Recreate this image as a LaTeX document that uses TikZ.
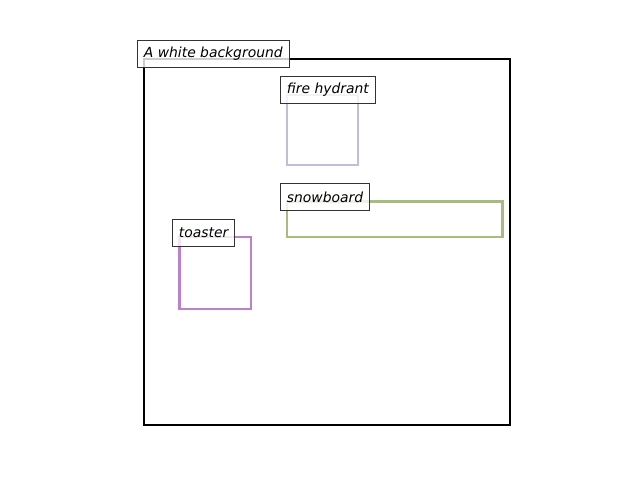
\documentclass[tikz,border=0pt]{standalone}
\usepackage{fontspec}
\setmainfont{DejaVu Sans}
\definecolor{hydrantcol}{HTML}{C4BCD8}
\definecolor{boardcol}{HTML}{A8BC80}
\definecolor{toastcol}{HTML}{BC80CC}
\begin{document}
\begin{tikzpicture}[
x=0.72pt, y=-0.72pt,
region/.style={line width=1.45pt},
tag/.style={draw=black!80, line width=0.7pt, fill=white, fill opacity=0.8, text opacity=1, anchor=west, inner xsep=4.6pt, inner ysep=0pt, minimum height=20pt, font=\itshape}
]
\useasboundingbox (0,0) rectangle (640,480);
\draw[region, black] (144,59) rectangle (510,425);
\draw[region, hydrantcol] (287,95) rectangle (358,165);
\draw[region, boardcol] (287,201.5) rectangle (502.5,237);
\draw[region, toastcol] (179.5,237) rectangle (251,309);
\node[tag] (background) at (137,54) {A white background};
\node[tag] (hydrant) at (280,90) {fire hydrant};
\node[tag] (snowboard) at (280,197) {snowboard};
\node[tag] (toaster) at (172,233) {toaster};
\end{tikzpicture}
\end{document}
